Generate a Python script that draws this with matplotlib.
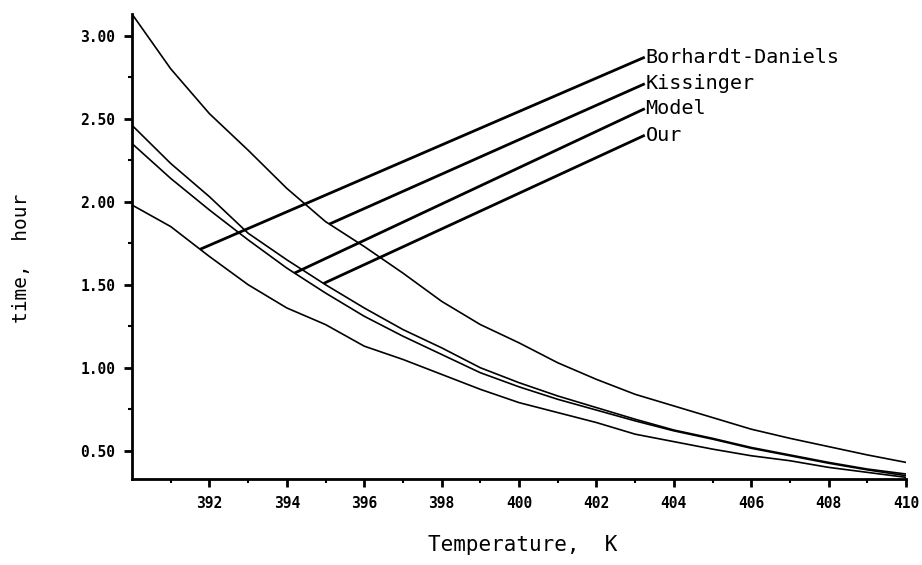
import numpy as np
import matplotlib
matplotlib.use("Agg")
import matplotlib.pyplot as plt

# temperaturas (K)
T = [390, 391, 392, 393, 394, 395, 396, 397, 398, 399, 400,
     401, 402, 403, 404, 405, 406, 407, 408, 409, 410]

# tiempo (h) de cada curva
kissinger = [3.13, 2.80, 2.53, 2.31, 2.08, 1.88, 1.73, 1.57, 1.40, 1.26, 1.15,
             1.03, 0.93, 0.84, 0.77, 0.70, 0.63, 0.575, 0.525, 0.475, 0.43]
our = [2.46, 2.23, 2.03, 1.81, 1.65, 1.50, 1.36, 1.23, 1.12, 1.00, 0.91,
       0.83, 0.76, 0.69, 0.625, 0.575, 0.52, 0.475, 0.43, 0.39, 0.36]
model = [2.35, 2.14, 1.95, 1.77, 1.60, 1.45, 1.31, 1.19, 1.08, 0.97, 0.885,
         0.81, 0.745, 0.68, 0.62, 0.57, 0.515, 0.47, 0.425, 0.385, 0.35]
borhardt = [1.98, 1.85, 1.67, 1.50, 1.36, 1.26, 1.13, 1.05, 0.96, 0.87, 0.79,
            0.73, 0.67, 0.60, 0.555, 0.51, 0.47, 0.44, 0.40, 0.37, 0.34]

names = ["Borhardt-Daniels", "Kissinger", "Model", "Our"]
curves = [borhardt, kissinger, model, our]
lead_T = [391.76, 395.1, 394.2, 394.95]     # donde la linea toca la curva
label_T = 403.25
label_y = [2.87, 2.71, 2.56, 2.40]

mono = "DejaVu Sans Mono"

fig = plt.figure(figsize=(9.22, 5.65), dpi=100)
ax = fig.add_axes([132/922, 1 - 479/565, 774/922, 465/565])

for c in curves:
    ax.plot(T, c, color="black", lw=1.2)

for name, c, lt, ly in zip(names, curves, lead_T, label_y):
    y0 = np.interp(lt, T, c)
    ax.plot([lt, label_T], [y0, ly], color="black", lw=2.0, solid_capstyle="butt")
    ax.text(label_T + 0.02, ly, name, ha="left", va="center",
            fontsize=14.5, family=mono)

ax.set_xlim(390, 410)
ax.set_ylim(0.33, 3.13)
ax.set_xticks(np.arange(392, 411, 2))
ax.set_xticks(np.arange(391, 410, 1), minor=True)
ax.set_yticks([0.5, 1.0, 1.5, 2.0, 2.5, 3.0])
ax.set_yticks(np.arange(0.75, 3.1, 0.5), minor=True)
ax.set_yticklabels(["%.2f" % v for v in [0.5, 1.0, 1.5, 2.0, 2.5, 3.0]])

for s in ["top", "right"]:
    ax.spines[s].set_visible(False)
for s in ["left", "bottom"]:
    ax.spines[s].set_linewidth(2)

ax.tick_params(axis="both", which="major", direction="out", width=2, length=6,
               pad=6)
ax.tick_params(axis="both", which="minor", direction="out", width=1.5, length=3)
for lab in ax.get_xticklabels() + ax.get_yticklabels():
    lab.set_family(mono)
    lab.set_fontweight("bold")
    lab.set_fontsize(10.5)

fig.text(523/922, 1 - 545/565, "Temperature,  K", ha="center", va="center",
         fontsize=15, family=mono)
fig.text(22/922, 1 - 258/565, "time,  hour", ha="center", va="center",
         rotation=90, fontsize=14, family=mono)

fig.savefig("out.png", dpi=100)
